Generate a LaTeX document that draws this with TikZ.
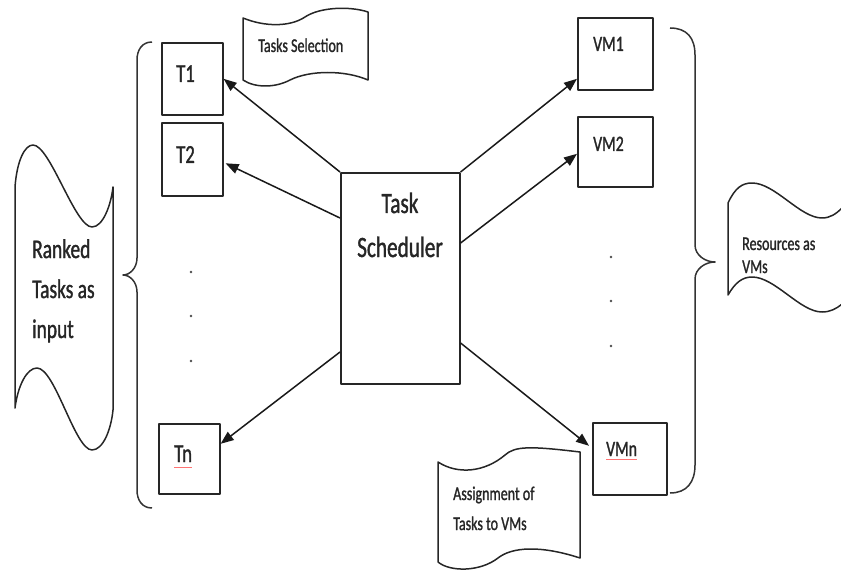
\documentclass[tikz,border=0pt]{standalone}
\usepackage{fontspec}
\usetikzlibrary{arrows.meta}
\newfontfamily\wordfont[FakeStretch=0.72,FakeBold=1.2]{Carlito}

\begin{document}
\begin{tikzpicture}[x=1bp,y=-1bp,line join=round,
  box/.style={draw=black!85,line width=1.6bp,anchor=north west,inner sep=0pt},
  lbl/.style={anchor=base west,inner sep=0pt,text=black!85},
  flow/.style={draw=black!90,line width=1.5bp,-{Triangle[length=13bp,width=10bp]}},
  tape/.style={draw=black!85,line width=1.5bp},
  brace/.style={draw=black!80,line width=1.5bp},
  squig/.style={draw=red!55,line width=0.6bp}]
\clip (0,0) rectangle (841,571);

%Shape: Boxes
\node[box,minimum width=61bp,minimum height=72bp] (T1) at (161,42) {};
\node[box,minimum width=61bp,minimum height=73bp] (T2) at (161,122) {};
\node[box,minimum width=61bp,minimum height=70bp] (Tn) at (158,423) {};
\node[box,minimum width=119bp,minimum height=211bp] (sched) at (340,172) {};
\node[box,minimum width=75bp,minimum height=72bp] (VM1) at (577,17) {};
\node[box,minimum width=75bp,minimum height=70bp] (VM2) at (577,116) {};
\node[box,minimum width=74bp,minimum height=72bp] (VMn) at (592,422) {};

%Straight Lines: scheduler to tasks and VMs
\draw[flow] (sched.north west) -- (T1.east);
\draw[flow] ([yshift=-46bp]sched.north west) -- ([xshift=2bp,yshift=-4bp]T2.east);
\draw[flow] ([yshift=-180bp]sched.north west) -- ([yshift=15bp]Tn.east);
\draw[flow] (sched.north east) -- ([yshift=-25bp]VM1.west);
\draw[flow] ([yshift=-71bp]sched.north east) -- ([yshift=-2bp]VM2.west);
\draw[flow] ([yshift=-171bp]sched.north east) -- ([xshift=-3bp,yshift=13bp]VMn.west);

%Shape: dots
\foreach \y in {272,316,361} \fill[black!70] (191,\y) circle (1.4bp);
\foreach \y in {257,301,346} \fill[black!70] (611,\y) circle (1.4bp);

%Shape: Braces
\draw[brace] (152,42) .. controls (142,42) and (137,50) .. (137,60) -- (137,258) .. controls (137,268) and (130,275) .. (123,275) .. controls (130,275) and (137,282) .. (137,292) -- (137,490) .. controls (137,500) and (142,508) .. (152,508);
\draw[brace] (670,28) .. controls (687,28) and (695,38) .. (695,55) -- (695,245) .. controls (695,255) and (705,262) .. (715,262) .. controls (705,262) and (695,269) .. (695,279) -- (695,465) .. controls (695,482) and (687,493) .. (670,493);

%Shape: Wave callouts
\draw[tape] (15,187) .. controls (17,160) and (25,145) .. (33,145) .. controls (50,145) and (75,227) .. (92,227) .. controls (103,227) and (111,205) .. (113,187) -- (113,410) .. controls (111,430) and (103,450) .. (92,450) .. controls (75,450) and (55,368) .. (37,368) .. controls (27,368) and (18,385) .. (15,408) -- cycle;
\draw[tape] (243,18) .. controls (265,27) and (290,27) .. (305,17) .. controls (320,7) and (350,6) .. (368,12) -- (368,80) .. controls (345,70) and (310,70) .. (290,80) .. controls (275,88) and (255,88) .. (243,80) -- cycle;
\draw[tape] (860,208) -- (842,208) .. controls (836,214) and (830,218) .. (822,218) .. controls (800,218) and (775,183) .. (752,183) .. controls (742,183) and (735,188) .. (728,203) -- (728,295) .. controls (735,283) and (742,277) .. (752,277) .. controls (775,277) and (800,312) .. (822,312) .. controls (830,312) and (836,309) .. (842,304) -- (860,304);
\draw[tape] (438,462) .. controls (458,475) and (485,472) .. (505,455) .. controls (515,446) and (530,446) .. (580,452) -- (580,558) .. controls (540,545) and (512,547) .. (498,558) .. controls (480,572) and (450,572) .. (438,562) -- cycle;

% Text Node
\node[lbl,align=left,font=\wordfont\fontsize{27bp}{40bp}\selectfont] (ranked) at (32,338) {Ranked\\Tasks as\\input};
\node[lbl,anchor=base,align=center,font=\wordfont\fontsize{29.5bp}{44bp}\selectfont] (schedtext) at (400,257) {Task\\Scheduler};
\node[lbl,font=\wordfont\fontsize{26bp}{30bp}\selectfont] (t1text) at (176,82) {T1};
\node[lbl,font=\wordfont\fontsize{26bp}{30bp}\selectfont] (t2text) at (176,163) {T2};
\node[lbl,font=\wordfont\fontsize{26bp}{30bp}\selectfont] (tntext) at (174,462) {Tn};
\node[lbl,font=\wordfont\fontsize{22bp}{26bp}\selectfont] (vm1text) at (593,51) {VM1};
\node[lbl,font=\wordfont\fontsize{22bp}{26bp}\selectfont] (vm2text) at (593,151) {VM2};
\node[lbl,font=\wordfont\fontsize{22bp}{26bp}\selectfont] (vmntext) at (606,456) {VMn};
\node[lbl,font=\wordfont\fontsize{19.5bp}{24bp}\selectfont] (seltext) at (258,52) {Tasks Selection};
\node[lbl,align=left,font=\wordfont\fontsize{19.5bp}{23bp}\selectfont] (restext) at (742,273) {Resources as\\VMs};
\node[lbl,align=left,font=\wordfont\fontsize{19.5bp}{30bp}\selectfont] (asgtext) at (453,530) {Assignment of\\Tasks to VMs};

%Straight Lines: spelling marks
\draw[squig] ([yshift=-5bp]tntext.base west) -- ([yshift=-5bp]tntext.base east);
\draw[squig] ([yshift=-3bp]vmntext.base west) -- ([yshift=-3bp]vmntext.base east);

\end{tikzpicture}
\end{document}
